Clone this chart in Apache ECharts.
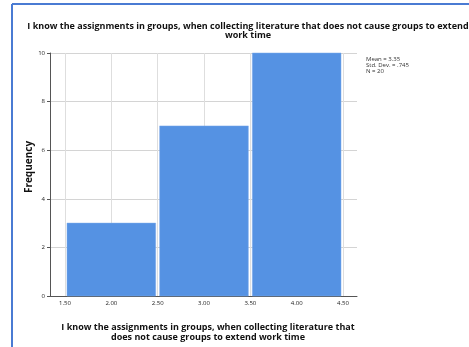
<!DOCTYPE html>
<html>
<head>
<meta charset="utf-8">
<script src="https://cdn.jsdelivr.net/npm/echarts@6/dist/echarts.min.js"></script>
<style>
  html, body { margin: 0; padding: 0; background: #fff; }
  #chart { width: 469px; height: 347px; }
</style>
</head>
<body>
<div id="chart"></div>
<script>
// Histogram bins and counts
const binStart = [1.5, 2.5, 3.5];
const binEnd = [2.5, 3.5, 4.5];
const frequency = [3, 7, 10];
const xTicks = [1.5, 2.0, 2.5, 3.0, 3.5, 4.0, 4.5];
const statLines = ['Mean = 3.35', 'Std. Dev. = .745', 'N = 20'];

const titleText = 'I know the assignments in groups, when collecting literature that does not cause groups to extend\nwork time';
const xName = 'I know the assignments in groups, when collecting literature that\ndoes not cause groups to extend work time';

const FONT = '"Open Sans", sans-serif';
const chart = echarts.init(document.getElementById('chart'), null, { renderer: 'canvas' });

const bins = binStart.map((s, i) => [s, binEnd[i], frequency[i]]);

chart.setOption({
  animation: false,
  backgroundColor: '#fff',
  title: [
    {
      text: titleText, left: 243, top: 17, textAlign: 'center',
      textStyle: { fontFamily: FONT, fontSize: 9, fontWeight: 'bold', color: '#111', lineHeight: 9 }
    },
    {
      text: xName, left: 203, top: 317, textAlign: 'center',
      textStyle: { fontFamily: FONT, fontSize: 9, fontWeight: 'bold', color: '#111', lineHeight: 10 }
    },
    {
      text: statLines.join('\n'), left: 361, top: 51,
      textStyle: { fontFamily: FONT, fontSize: 6, fontWeight: 'normal', color: '#333', lineHeight: 6 }
    }
  ],
  graphic: [
    { type: 'line', shape: { x1: 12, y1: 4, x2: 469, y2: 4 }, style: { stroke: '#4a7bd3', lineWidth: 2 } },
    { type: 'line', shape: { x1: 12, y1: 4, x2: 12, y2: 347 }, style: { stroke: '#4a7bd3', lineWidth: 2 } },
    {
      type: 'text', x: 29, y: 167, rotation: Math.PI / 2,
      style: { text: 'Frequency', font: 'bold 10px ' + FONT, fill: '#111', align: 'center', verticalAlign: 'middle' }
    }
  ],
  grid: [
    { left: 50, right: 112, top: 53, bottom: 51 },
    { left: 65, right: 126, top: 53, bottom: 51 }
  ],
  xAxis: [
    {
      gridIndex: 0, type: 'value', min: 0, max: 1,
      axisLine: { show: true, lineStyle: { color: '#555', width: 1 } },
      axisTick: { show: false }, axisLabel: { show: false }, splitLine: { show: false }
    },
    {
      gridIndex: 1, type: 'value', min: xTicks[0], max: xTicks[xTicks.length - 1], interval: 0.5,
      axisLine: { show: false },
      axisTick: { show: false },
      axisLabel: {
        fontFamily: FONT, fontSize: 6, color: '#222', margin: 4,
        formatter: v => v.toFixed(2)
      },
      splitLine: { show: true, lineStyle: { color: '#dedede', width: 1 } }
    }
  ],
  yAxis: [
    {
      gridIndex: 0, type: 'value', min: 0, max: 10, interval: 2,
      axisLine: { show: true, lineStyle: { color: '#555', width: 1 } },
      axisTick: { show: true, length: 3, lineStyle: { color: '#555' } },
      axisLabel: { fontFamily: FONT, fontSize: 6, color: '#222', margin: 5 },
      splitLine: { show: true, lineStyle: { color: '#d4d4d4', width: 1 } }
    },
    {
      gridIndex: 1, type: 'value', min: 0, max: 10, interval: 2,
      axisLine: { show: false }, axisTick: { show: false }, axisLabel: { show: false },
      splitLine: { show: false }
    }
  ],
  series: [
    {
      type: 'custom',
      xAxisIndex: 1, yAxisIndex: 1,
      data: bins,
      encode: { x: [0, 1], y: 2 },
      renderItem: function (params, api) {
        const p0 = api.coord([api.value(0), api.value(2)]);
        const p1 = api.coord([api.value(1), 0]);
        return {
          type: 'rect',
          shape: { x: p0[0] + 2, y: p0[1], width: p1[0] - p0[0] - 4, height: p1[1] - p0[1] },
          style: { fill: '#5592e3', stroke: '#7aa9ea', lineWidth: 0.5 }
        };
      }
    }
  ]
});
</script>
</body>
</html>
